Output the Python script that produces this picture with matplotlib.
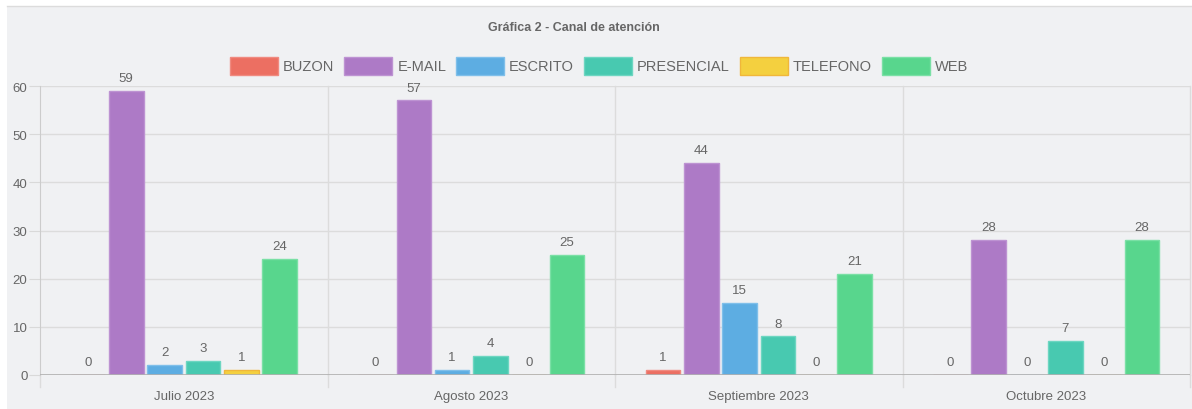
import matplotlib
matplotlib.use("Agg")
import matplotlib.pyplot as plt
from matplotlib.patches import Rectangle
from matplotlib.lines import Line2D

months = ['Julio 2023', 'Agosto 2023', 'Septiembre 2023', 'Octubre 2023']
series_names = ['BUZON', 'E-MAIL', 'ESCRITO', 'PRESENCIAL', 'TELEFONO', 'WEB']
buzon = [0, 0, 1, 0]
email = [59, 57, 44, 28]
escrito = [2, 1, 15, 0]
presencial = [3, 4, 8, 7]
telefono = [1, 0, 0, 0]
web = [24, 25, 21, 28]
series = [buzon, email, escrito, presencial, telefono, web]
colors = ['#ec6f62', '#ad7ac6', '#5dade2', '#48c9b0', '#f4d03f', '#58d68d']
edges = ['#f08a80', '#bd93d2', '#7fbfea', '#6dd6c1', '#f0b73a', '#7ae0a5']
y_ticks = [0, 10, 20, 30, 40, 50, 60]
title = 'Gráfica 2 - Canal de atención'

plt.rcParams['font.family'] = ['Liberation Sans', 'DejaVu Sans']

W, H = 1192, 410
fig = plt.figure(figsize=(W / 100, H / 100), dpi=100)
fig.patch.set_facecolor('white')

def fx(px):
    return px / W

def fy(py):
    return 1 - py / H

# panel background
fig.patches.append(Rectangle((fx(7), 0), 1 - fx(7), fy(7), transform=fig.transFigure,
                             facecolor='#f0f1f3', edgecolor='none', zorder=-5))
fig.lines.append(Line2D([fx(7), 1], [fy(7), fy(7)], transform=fig.transFigure,
                        color='#dcdcdc', lw=1, zorder=-4))

ax = fig.add_axes([fx(40), fy(376), fx(1190) - fx(40), fy(87) - fy(376)])
ax.set_facecolor('none')

n = len(series)
slot = 0.8 / n
bw = slot * 0.9
xs = list(range(len(months)))
for i, (vals, c, ec) in enumerate(zip(series, colors, edges)):
    off = (i - (n - 1) / 2) * slot
    pos = [x + off for x in xs]
    ax.bar(pos, vals, width=bw, color=c, edgecolor=ec, linewidth=1, zorder=3)
    for p, v in zip(pos, vals):
        ax.annotate(str(v), (p, v), xytext=(0, 5), textcoords='offset points',
                    ha='center', va='bottom', fontsize=9.5, color='#666666', zorder=4)

ax.set_xlim(-0.5, len(months) - 0.5)
ax.set_ylim(0, 60)
ax.set_yticks(y_ticks)
ax.set_yticklabels([str(t) for t in y_ticks])
ax.set_xticks(xs)
ax.set_xticklabels(months)
ax.tick_params(axis='y', length=8, color='#d9d9d9', labelsize=9.5, labelcolor='#666666', pad=1)
ax.tick_params(axis='x', length=0, labelsize=9.5, labelcolor='#666666', pad=11)
for s in ['top', 'right', 'bottom']:
    ax.spines[s].set_visible(False)
ax.spines['left'].set_color('#cccccc')
ax.grid(axis='y', color='#dcdcdc', lw=1, zorder=0)
# vertical category separators (extend below axis)
for b in [k - 0.5 for k in range(1, len(months))] + [len(months) - 0.5]:
    ax.plot([b, b], [0, 60], color='#dcdcdc', lw=1, zorder=1, clip_on=False)
for b in [k - 0.5 for k in range(len(months) + 1)]:
    ax.plot([b, b], [0, -2.5], color='#dcdcdc', lw=1, zorder=1, clip_on=False)
ax.axhline(0, color='#b0b0b0', lw=1.2, zorder=5)

# title
fig.text(fx(574), fy(28), title, ha='center', va='center', fontsize=9,
         fontweight='bold', color='#666666')

# legend (manual, chart.js style)
fig.canvas.draw()
renderer = fig.canvas.get_renderer()
box_w, box_h, gap, item_gap = 48, 17, 5, 10
texts = []
widths = []
for name in series_names:
    t = fig.text(0, 0, name, fontsize=10.5, color='#666666', va='center', ha='left')
    texts.append(t)
    widths.append(t.get_window_extent(renderer).width)
total = sum(box_w + gap + w for w in widths) + item_gap * (n - 1)
x = 599 - total / 2
ly = 67
for t, w, c, ec in zip(texts, widths, colors, edges):
    fig.patches.append(Rectangle((fx(x), fy(ly + box_h / 2)), box_w / W, box_h / H,
                                 transform=fig.transFigure, facecolor=c, edgecolor=ec, lw=1))
    t.set_position((fx(x + box_w + gap), fy(ly)))
    x += box_w + gap + w + item_gap

fig.savefig('out.png', dpi=100, facecolor=fig.get_facecolor())
